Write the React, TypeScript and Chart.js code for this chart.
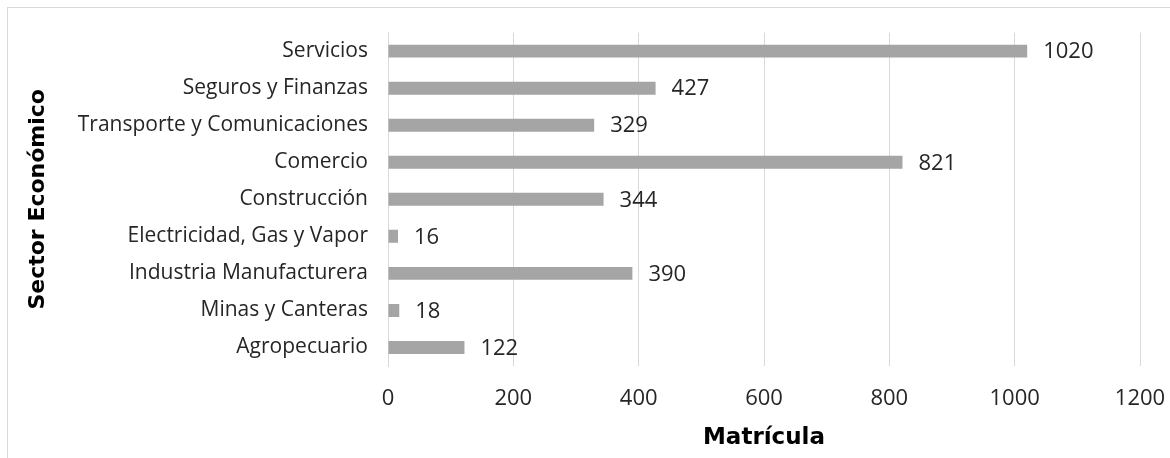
import React, { useEffect, useRef } from "react";
import { Chart, registerables } from "chart.js";

Chart.register(...registerables);

const categories = [
  "Servicios",
  "Seguros y Finanzas",
  "Transporte y Comunicaciones",
  "Comercio",
  "Construcción",
  "Electricidad, Gas y Vapor",
  "Industria Manufacturera",
  "Minas y Canteras",
  "Agropecuario",
];
const matricula = [1020, 427, 329, 821, 344, 16, 390, 18, 122];
const xMin = 0;
const xMax = 1200;
const xStep = 200;
const xTitle = "Matrícula";
const yTitle = "Sector Económico";

const BASE_FONT = "'Open Sans', sans-serif";
const TITLE_FONT = "'DejaVu Sans', sans-serif";
const TEXT = "#262626";

const dataLabels = {
  id: "dataLabels",
  afterDatasetsDraw(chart: any) {
    const ctx = chart.ctx;
    const meta = chart.getDatasetMeta(0);
    ctx.save();
    ctx.font = `22px ${BASE_FONT}`;
    ctx.fillStyle = TEXT;
    ctx.textAlign = "left";
    ctx.textBaseline = "middle";
    meta.data.forEach((bar: any, i: number) => {
      const v = chart.data.datasets[0].data[i];
      ctx.fillText(String(v), bar.x + 16, bar.y + 1);
    });
    ctx.restore();
  },
};

export default function App() {
  const ref = useRef<HTMLCanvasElement>(null);
  useEffect(() => {
    if (!ref.current) return;
    const chart = new Chart(ref.current, {
      type: "bar",
      data: {
        labels: categories,
        datasets: [
          {
            data: matricula,
            backgroundColor: "#a5a5a5",
            borderWidth: 0,
            categoryPercentage: 1,
            barPercentage: 0.35,
          },
        ],
      },
      options: {
        indexAxis: "y",
        animation: false,
        responsive: false,
        maintainAspectRatio: false,
        layout: { padding: { left: 0, top: 28, right: 30, bottom: 0 } },
        plugins: {
          legend: { display: false },
          tooltip: { enabled: false },
        },
        scales: {
          x: {
            min: xMin,
            max: xMax,
            ticks: {
              stepSize: xStep,
              padding: 20,
              color: TEXT,
              font: { family: BASE_FONT, size: 22 },
              callback: (v: any) => String(v),
            },
            grid: { color: "#d9d9d9", drawTicks: false, lineWidth: 1 },
            border: { display: false },
            title: {
              display: true,
              text: xTitle,
              color: "#000000",
              font: { family: TITLE_FONT, size: 23, weight: "bold" },
              padding: { top: 0, bottom: 6 },
            },
            afterFit: (s: any) => {
              s.height = 92;
              s.paddingRight = 0;
              s.paddingLeft = 0;
            },
          },
          y: {
            ticks: {
              padding: 20,
              color: TEXT,
              font: { family: BASE_FONT, size: 21 },
            },
            grid: { display: false, drawTicks: false },
            border: { display: true, color: "#d9d9d9" },
            title: {
              display: true,
              text: yTitle,
              color: "#000000",
              font: { family: TITLE_FONT, size: 22, weight: "bold" },
              padding: { top: 25, bottom: 0 },
            },
            afterFit: (s: any) => {
              s.width = 388;
            },
          },
        },
      },
      plugins: [dataLabels],
    });
    return () => chart.destroy();
  }, []);

  return (
    <div style={{ position: "fixed", left: 0, top: 0, width: 1170, height: 458, overflow: "hidden", background: "#fff" }}>
      <div
        style={{
          position: "absolute",
          left: 7,
          top: 7,
          width: 1300,
          height: 600,
          border: "1.5px solid #d9d9d9",
        }}
      />
      <canvas ref={ref} width={1170} height={458} style={{ position: "absolute", left: 0, top: 0, width: 1170, height: 458 }} />
    </div>
  );
}
